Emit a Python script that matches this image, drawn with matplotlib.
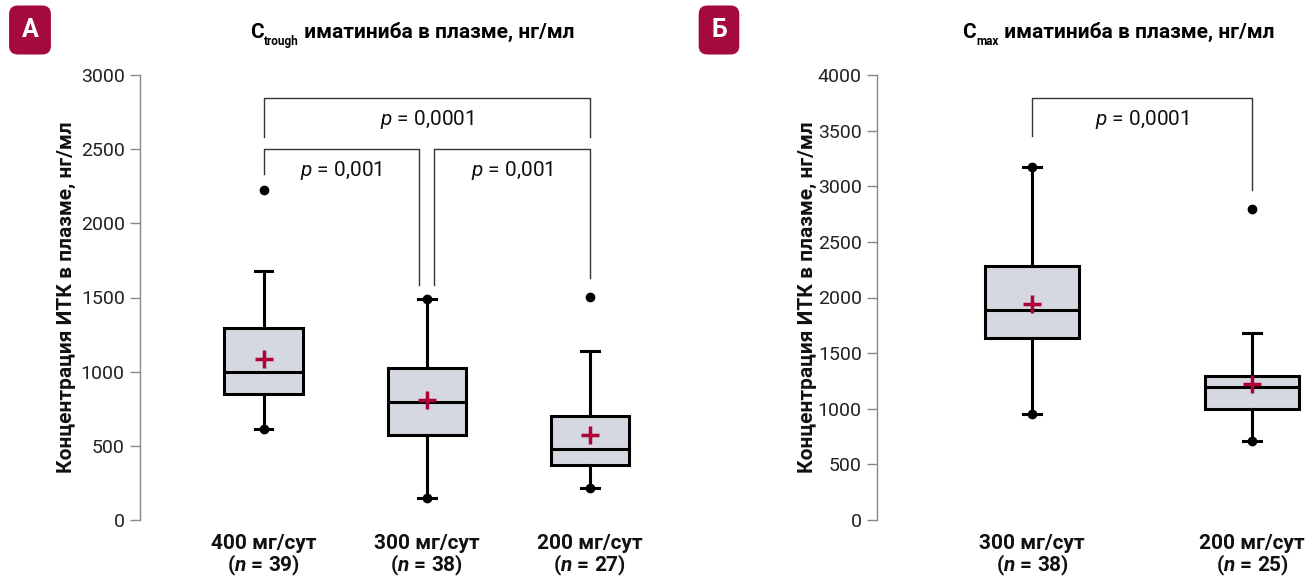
import matplotlib.pyplot as plt

plt.rcParams['font.family'] = ['Roboto', 'DejaVu Sans']
plt.rcParams['mathtext.fontset'] = 'custom'
plt.rcParams['mathtext.rm'] = 'Roboto'
plt.rcParams['mathtext.it'] = 'Roboto:italic'
plt.rcParams['mathtext.bf'] = 'Roboto:bold'
plt.rcParams['mathtext.bfit'] = 'Roboto:bold:italic'

# panel A: C trough
doses_a = ['400 мг/сут', '300 мг/сут', '200 мг/сут']
n_a = [39, 38, 27]
q1_a = [849, 573, 371]
med_a = [1000, 798, 479]
q3_a = [1296, 1023, 703]
wlo_a = [611, 146, 213]
whi_a = [1677, 1488, 1137]
mean_a = [1083, 809, 573]
points_a = [[611, 2225], [146, 1488], [213, 1506]]
# (x1, x2, top, leg1, leg2, label)
brackets_a = [(1, 3, 2843, 2584, 2584, 'p = 0,0001'),
              (1, 1.955, 2500, 2331, 1584, 'p = 0,001'),
              (2.045, 3, 2500, 1584, 1629, 'p = 0,001')]

# panel B: C max
doses_b = ['300 мг/сут', '200 мг/сут']
n_b = [38, 25]
q1_b = [1639, 998]
med_b = [1888, 1196]
q3_b = [2283, 1294]
wlo_b = [950, 707]
whi_b = [3175, 1678]
mean_b = [1942, 1222]
points_b = [[950, 3170], [707, 2796]]
brackets_b = [(1, 2, 3790, 3454, 2966, 'p = 0,0001')]

badge_color = '#A50A3C'
mean_color = '#B0003A'
box_color = '#D5D8E0'

fig = plt.figure(figsize=(13.15, 5.76), dpi=100)
axA = fig.add_axes([140 / 1315, 56 / 576, 520 / 1315, 445 / 576])
axB = fig.add_axes([877 / 1315, 56 / 576, 438 / 1315, 445 / 576])


def draw(ax, doses, n, q1, med, q3, wlo, whi, mean, points, brackets,
         width, capw, ymax, xlim, text_dy):
    stats = []
    for i in range(len(doses)):
        stats.append(dict(q1=q1[i], med=med[i], q3=q3[i], whislo=wlo[i],
                          whishi=whi[i], mean=mean[i], fliers=points[i]))
    pos = list(range(1, len(doses) + 1))
    ax.bxp(stats, positions=pos, widths=width, capwidths=capw,
           patch_artist=True, showmeans=True,
           boxprops=dict(facecolor=box_color, edgecolor='black', linewidth=2.2),
           medianprops=dict(color='black', linewidth=2.2),
           whiskerprops=dict(color='black', linewidth=2.2),
           capprops=dict(color='black', linewidth=2.2),
           meanprops=dict(marker='+', markeredgecolor=mean_color,
                          markersize=13, markeredgewidth=2.5),
           flierprops=dict(marker='o', markerfacecolor='black',
                           markeredgecolor='black', markersize=6))

    for x1, x2, top, l1, l2, lab in brackets:
        ax.plot([x1, x1, x2, x2], [l1, top, top, l2], color='#333333', lw=1)
        ax.text((x1 + x2) / 2, top - text_dy, lab.replace('p', '$p$'),
                ha='center', va='center', fontsize=15, color='#111111')

    ax.set_xlim(*xlim)
    ax.set_ylim(0, ymax)
    ax.set_yticks(range(0, ymax + 1, 500))
    labels = [f'{d}\n($\\mathbfit{{n}}$ = {k})' for d, k in zip(doses, n)]
    ax.set_xticks(pos, labels)
    for t in ax.get_xticklabels():
        t.set_fontweight('bold')
        t.set_linespacing(1.0)
    ax.tick_params(axis='x', length=0, pad=10, labelsize=15, colors='#111111')
    ax.tick_params(axis='y', length=7, width=1, color='#888888',
                   labelsize=14, labelcolor='#222222', pad=4)
    for s in ['top', 'right', 'bottom']:
        ax.spines[s].set_visible(False)
    ax.spines['left'].set_color('#888888')
    ax.spines['left'].set_linewidth(1)
    ax.set_ylabel('Концентрация ИТК в плазме, нг/мл', fontsize=15,
                  fontweight='bold', color='#111111')


draw(axA, doses_a, n_a, q1_a, med_a, q3_a, wlo_a, whi_a, mean_a, points_a,
     brackets_a, 0.48, 0.11, 3000, (0.243, 3.43), 146)
axA.yaxis.set_label_coords(-0.124, 0.5)

draw(axB, doses_b, n_b, q1_b, med_b, q3_b, wlo_b, whi_b, mean_b, points_b,
     brackets_b, 0.43, 0.08, 4000, (0.295, 2.286), 194)
axB.yaxis.set_label_coords(-0.137, 0.5)


def title(x, sub):
    # C, small lowered subscript, then the rest on C's baseline
    c = fig.text(x / 1315, 1 - 42 / 576, 'C', ha='left', va='bottom',
                 fontsize=15, fontweight='bold')
    s = fig.add_artist(plt.Annotation(
        sub, xy=(1, 0), xycoords=c, xytext=(0.5, -4),
        textcoords='offset points', fontsize=8.5, fontweight='bold',
        ha='left', va='bottom', annotation_clip=False))
    fig.add_artist(plt.Annotation(
        ' иматиниба в плазме, нг/мл', xy=(1, 0), xycoords=(s, c),
        ha='left', va='bottom', fontsize=15, fontweight='bold',
        annotation_clip=False))


title(250, 'trough')
title(962, 'max')

for x, letter in [(30, 'А'), (719, 'Б')]:
    fig.text(x / 1315, 1 - 30 / 576, letter, ha='center', va='center',
             fontsize=18, fontweight='bold', color='white',
             bbox=dict(boxstyle='round,pad=0.5,rounding_size=0.35',
                       fc=badge_color, ec='none'))

fig.savefig('out.png', dpi=100)
